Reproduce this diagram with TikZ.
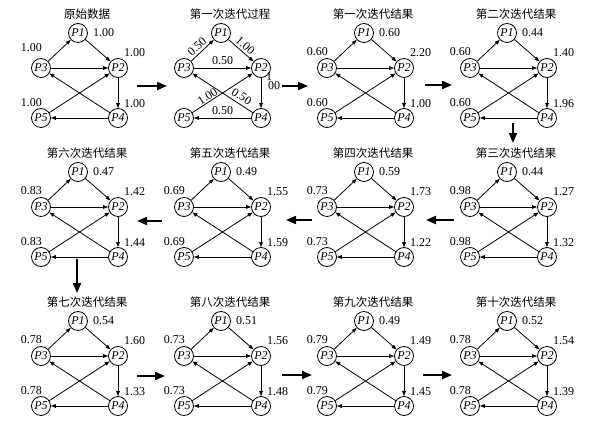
\documentclass[tikz,border=0pt]{standalone}
\usepackage{fontspec}
\setmainfont{Liberation Serif}
\newfontfamily\cjk{Noto Sans CJK SC}
\usetikzlibrary{arrows.meta}
\tikzset{
  pnode/.style={circle, draw, line width=0.8pt, minimum size=19pt, inner sep=0pt, font=\fontsize{12}{12}\selectfont\itshape},
  lnk/.style={line width=0.8pt, -{Triangle[length=5pt,width=3.6pt]}},
  val/.style={font=\fontsize{12}{12}\selectfont, inner sep=0pt},
  ttl/.style={font=\cjk\fontsize{11.5}{12}\selectfont, inner sep=0pt},
  bigarrow/.style={line width=2pt, -{Triangle[length=10pt,width=8pt]}},
}
\newcommand\mygraph[4]{%
  \begin{scope}[shift={(#2,#3)}]
    \node[pnode] (#1p3) at (0,0) {P3};
    \node[pnode] (#1p1) at (37,-35) {P1};
    \node[pnode] (#1p2) at (77,0) {P2};
    \node[pnode] (#1p5) at (0,50) {P5};
    \node[pnode] (#1p4) at (77,50) {P4};
    \node[ttl] (#1t) at (46,-54) {#4};
  \end{scope}}
\newcommand\myedges[1]{%
  \draw[lnk] (#1p3) -- (#1p1);
  \draw[lnk] (#1p1) -- (#1p2);
  \draw[lnk] (#1p3) -- (#1p2);
  \draw[lnk] (#1p2) -- (#1p4);
  \draw[lnk] (#1p4) -- (#1p3);
  \draw[lnk] (#1p4) -- (#1p5);
  \draw[lnk] (#1p5) -- (#1p2);}
\newcommand\myvals[7][16pt]{%
  \node[val, anchor=west] (#2v1) at ([xshift=15pt]#2p1.center) {#3};
  \node[val, anchor=east] (#2v3) at ([xshift=1pt,yshift=#1]#2p3.center) {#4};
  \node[val, anchor=west] (#2v2) at ([xshift=6pt,yshift=15pt]#2p2.center) {#5};
  \node[val, anchor=east] (#2v5) at ([xshift=1pt,yshift=15pt]#2p5.center) {#6};
  \node[val, anchor=west] (#2v4) at ([xshift=6pt,yshift=14pt]#2p4.center) {#7};}
\begin{document}
\begin{tikzpicture}[x=1pt,y=-1pt]
\useasboundingbox (0,0) rectangle (602,425);
% row 1
\mygraph{a}{41}{68}{原始数据}
\myedges{a}
\myvals[20pt]{a}{1.00}{1.00}{1.00}{1.00}{1.00}
\mygraph{b}{184}{68}{第一次迭代过程}
\draw[lnk] (bp3) -- node[val, sloped, above=2pt, pos=0.45] (be31) {0.50} (bp1);
\draw[lnk] (bp1) -- node[val, sloped, above=2pt, pos=0.5] (be12) {1.00} (bp2);
\draw[lnk] (bp3) -- node[val, above=3pt] (be32) {0.50} (bp2);
\draw[lnk] (bp2) -- (bp4);
\draw[lnk] (bp4) -- node[val, sloped, above=3pt, pos=0.25] (be43) {0.50} (bp3);
\draw[lnk] (bp4) -- node[val, above=3pt] (be45) {0.50} (bp5);
\draw[lnk] (bp5) -- node[val, sloped, above=1pt, pos=0.3] (be52) {1.00} (bp2);
\node[val, align=left, anchor=north west, font=\fontsize{12}{10}\selectfont] (be24) at ([xshift=5pt,yshift=-4pt]bp2.center) {1\\[-1pt]\hspace{2pt}00};
\mygraph{c}{327}{68}{第一次迭代结果}
\myedges{c}
\myvals{c}{0.60}{0.60}{2.20}{0.60}{1.00}
\mygraph{d}{470}{68}{第二次迭代结果}
\myedges{d}
\myvals{d}{0.44}{0.60}{1.40}{0.60}{1.96}
% row 2
\mygraph{e}{470}{207}{第三次迭代结果}
\myedges{e}
\myvals{e}{0.44}{0.98}{1.27}{0.98}{1.32}
\mygraph{f}{327}{207}{第四次迭代结果}
\myedges{f}
\myvals{f}{0.59}{0.73}{1.73}{0.73}{1.22}
\mygraph{g}{184}{207}{第五次迭代结果}
\myedges{g}
\myvals{g}{0.49}{0.69}{1.55}{0.69}{1.59}
\mygraph{h}{41}{207}{第六次迭代结果}
\myedges{h}
\myvals{h}{0.47}{0.83}{1.42}{0.83}{1.44}
% row 3
\mygraph{i}{41}{356}{第七次迭代结果}
\myedges{i}
\myvals{i}{0.54}{0.78}{1.60}{0.78}{1.33}
\mygraph{j}{184}{356}{第八次迭代结果}
\myedges{j}
\myvals{j}{0.51}{0.73}{1.56}{0.73}{1.48}
\mygraph{k}{327}{356}{第九次迭代结果}
\myedges{k}
\myvals{k}{0.49}{0.79}{1.49}{0.79}{1.45}
\mygraph{l}{470}{356}{第十次迭代结果}
\myedges{l}
\myvals{l}{0.52}{0.78}{1.54}{0.78}{1.39}
% big arrows
\coordinate (r1a) at (137,86); \coordinate (r1b) at (167,86);
\coordinate (r1c) at (282,86); \coordinate (r1d) at (308,86);
\coordinate (r1e) at (425,85); \coordinate (r1f) at (452,85);
\coordinate (d1a) at (513,123); \coordinate (d1b) at (513,143);
\coordinate (r2a) at (454,220); \coordinate (r2b) at (426,220);
\coordinate (r2c) at (312,220); \coordinate (r2d) at (286,220);
\coordinate (r2e) at (162,221); \coordinate (r2f) at (137,221);
\coordinate (d2a) at (77,259); \coordinate (d2b) at (77,293);
\coordinate (r3a) at (137,376); \coordinate (r3b) at (165,376);
\coordinate (r3c) at (282,375); \coordinate (r3d) at (312,375);
\coordinate (r3e) at (423,375); \coordinate (r3f) at (452,375);
\draw[bigarrow] (r1a) -- (r1b);
\draw[bigarrow] (r1c) -- (r1d);
\draw[bigarrow] (r1e) -- (r1f);
\draw[bigarrow] (d1a) -- (d1b);
\draw[bigarrow] (r2a) -- (r2b);
\draw[bigarrow] (r2c) -- (r2d);
\draw[bigarrow] (r2e) -- (r2f);
\draw[bigarrow] (d2a) -- (d2b);
\draw[bigarrow] (r3a) -- (r3b);
\draw[bigarrow] (r3c) -- (r3d);
\draw[bigarrow] (r3e) -- (r3f);
\end{tikzpicture}
\end{document}
